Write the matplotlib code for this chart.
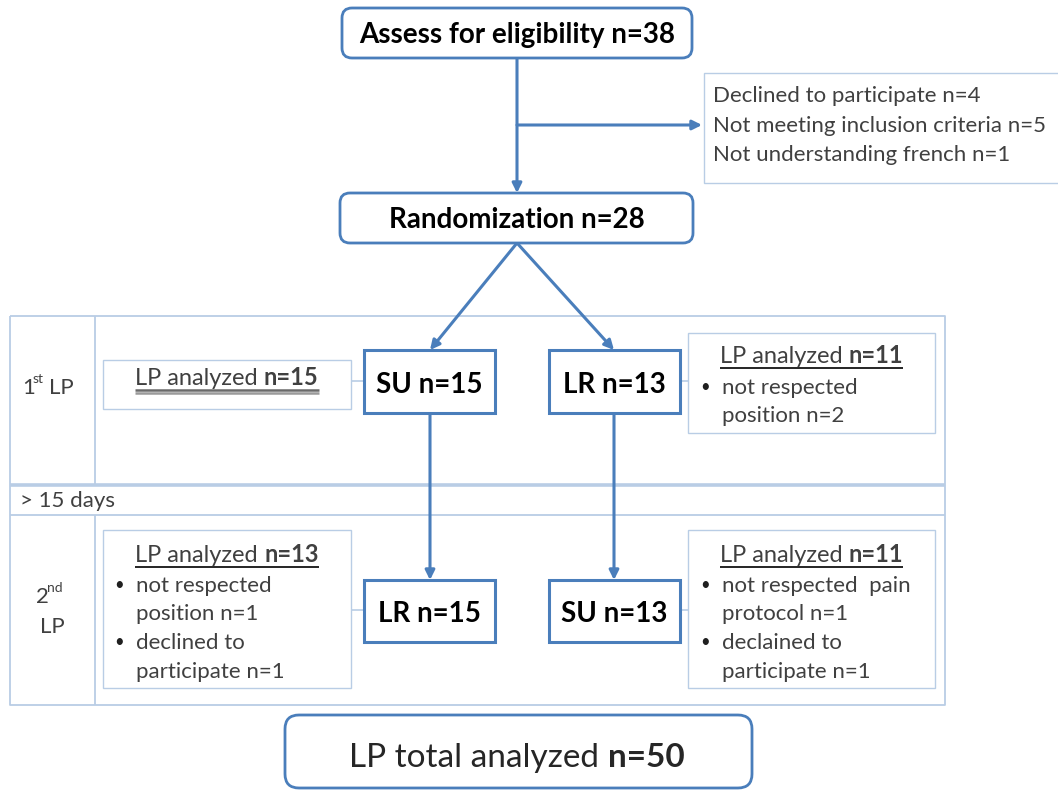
import matplotlib
matplotlib.use('Agg')
import matplotlib.pyplot as plt
from matplotlib.patches import FancyBboxPatch, Rectangle, FancyArrowPatch

# ---------------- data ----------------
assess_label = "Assess for eligibility"
assess_n = 38
excluded_reasons = ["Declined to participate", "Not meeting inclusion criteria", "Not understanding french"]
excluded_n = [4, 5, 1]
random_label = "Randomization"
random_n = 28
period1_groups = ["SU", "LR"]
period1_n = [15, 13]
period2_groups = ["LR", "SU"]
period2_n = [15, 13]
period1_analyzed = [15, 11]
period2_analyzed = [13, 11]
period1_notes = [[], [["not respected", "position n=2"]]]
period2_notes = [[["not respected", "position n=1"], ["declined to", "participate n=1"]],
                 [["not respected  pain", "protocol n=1"], ["declained to", "participate n=1"]]]
gap_label = "> 15 days"
total_label = "LP total analyzed"
total_n = 50

# ---------------- setup ----------------
W, H = 1058, 790
fig = plt.figure(figsize=(W / 100, H / 100), dpi=100)
ax = fig.add_axes([0, 0, 1, 1])
ax.set_xlim(0, W)
ax.set_ylim(H, 0)
ax.axis('off')

FONT = 'Lato'
BLUE = '#4a7ebb'
LIGHT = '#b9cde5'
GRAY = '#404040'
renderer = fig.canvas.get_renderer()

S_MAIN = 20
S_GRP = 20
S_SMALL = 16
S_HEAD = 17
S_TOTAL = 24


def twidth(s, size, weight):
    t = ax.text(0, 0, s, fontsize=size, fontweight=weight, family=FONT)
    w = t.get_window_extent(renderer).width
    t.remove()
    return w


def rich(x, y, parts, size, ha='center', color='black', underline=None, ulw=1.0, double=False):
    widths = [twidth(p, size, w) for p, w in parts]
    sp = twidth('n n', size, 'normal') - twidth('nn', size, 'normal')
    total = sum(widths) + sp * (len(parts) - 1)
    x0 = x - total / 2 if ha == 'center' else x
    cx = x0
    for (p, w), wd in zip(parts, widths):
        ax.text(cx, y, p, fontsize=size, fontweight=w, family=FONT, color=color,
                ha='left', va='baseline', zorder=5)
        cx += wd + sp
    if underline:
        ax.plot([x0, x0 + total], [y + 5, y + 5], color=underline, lw=ulw,
                solid_capstyle='butt', zorder=5)
        if double:
            ax.plot([x0, x0 + total], [y + 8, y + 8], color='#9a9a9a', lw=ulw,
                    solid_capstyle='butt', zorder=5)


def rbox(x0, y0, x1, y1, lw=2.0, ec=BLUE, r=10):
    ax.add_patch(FancyBboxPatch((x0, y0), x1 - x0, y1 - y0,
                                boxstyle=f"round,pad=0,rounding_size={r}",
                                fc='white', ec=ec, lw=lw, zorder=3))


def sbox(x0, y0, x1, y1, lw=2.0, ec=BLUE):
    ax.add_patch(Rectangle((x0, y0), x1 - x0, y1 - y0, fc='white', ec=ec, lw=lw, zorder=3))


def arrow(p0, p1):
    ax.add_patch(FancyArrowPatch(p0, p1, arrowstyle='-|>', mutation_scale=14,
                                 color=BLUE, lw=2.2, shrinkA=0, shrinkB=0, zorder=2))


def line(xs, ys, color=LIGHT, lw=1.2, z=1):
    ax.plot(xs, ys, color=color, lw=lw, zorder=z, solid_capstyle='butt')


# ---------------- table frame ----------------
line([10, 945, 945, 10, 10], [316, 316, 705, 705, 316], lw=1.3)
line([10, 945], [485, 485], lw=2.6)
line([10, 945], [515, 515], lw=1.3)
line([95, 95], [316, 485], lw=1.3)
line([95, 95], [515, 705], lw=1.3)

ax.text(22, 394, "1", fontsize=S_SMALL, family=FONT, color=GRAY, ha='left', va='baseline')
ax.text(33, 383, "st", fontsize=10, family=FONT, color=GRAY, ha='left', va='baseline')
ax.text(49, 394, "LP", fontsize=S_SMALL, family=FONT, color=GRAY, ha='left', va='baseline')
ax.text(36, 603, "2", fontsize=S_SMALL, family=FONT, color=GRAY, ha='left', va='baseline')
ax.text(47, 592, "nd", fontsize=10, family=FONT, color=GRAY, ha='left', va='baseline')
ax.text(52, 633, "LP", fontsize=S_SMALL, family=FONT, color=GRAY, ha='center', va='baseline')
ax.text(20, 507, gap_label, fontsize=S_SMALL, family=FONT, color=GRAY, ha='left', va='baseline')

# ---------------- top part ----------------
cx = 517
rbox(342, 8, 692, 58)
rich(cx, 43, [(f"{assess_label} n={assess_n}", 'bold')], S_MAIN)

arrow((cx, 58), (cx, 193))
arrow((cx, 125), (702, 125))

sbox(704, 73, 1070, 183, lw=1.0, ec=LIGHT)
for i, (r, n) in enumerate(zip(excluded_reasons, excluded_n)):
    ax.text(713, 102 + 29.5 * i, f"{r} n={n}", fontsize=S_SMALL, family=FONT, color=GRAY,
            ha='left', va='baseline', zorder=4)

rbox(340, 193, 693, 243)
rich(cx, 228, [(f"{random_label} n={random_n}", 'bold')], S_MAIN)

xs_grp = [430, 614]
arrow((cx, 243), (xs_grp[0], 350))
arrow((cx, 243), (xs_grp[1], 350))

# ---------------- group boxes ----------------
grp_boxes_x = [(364, 495), (549, 680)]
for (x0, x1), g, n in zip(grp_boxes_x, period1_groups, period1_n):
    sbox(x0, 350, x1, 413, lw=2.2)
    rich((x0 + x1) / 2, 393, [(f"{g} n={n}", 'bold')], S_GRP)
for (x0, x1), g, n in zip(grp_boxes_x, period2_groups, period2_n):
    sbox(x0, 580, x1, 642, lw=2.2)
    rich((x0 + x1) / 2, 622, [(f"{g} n={n}", 'bold')], S_GRP)

arrow((xs_grp[0], 413), (xs_grp[0], 580))
arrow((xs_grp[1], 413), (xs_grp[1], 580))

# side boxes period 1
sbox(103, 360, 351, 409, lw=1.0, ec=LIGHT)
line([351, 364], [381, 381])
rich(227, 385, [("LP analyzed", 'normal'), (f"n={period1_analyzed[0]}", 'bold')], S_HEAD,
     color=GRAY, underline='#6a6a6a', ulw=1.8, double=True)

sbox(688, 333, 935, 433, lw=1.0, ec=LIGHT)
line([680, 688], [381, 381])
rich(811.5, 363, [("LP analyzed", 'normal'), (f"n={period1_analyzed[1]}", 'bold')], S_HEAD,
     color=GRAY, underline='black', ulw=1.2)


def notes(xb, xt, y0, items):
    y = y0
    for it in items:
        ax.text(xb, y - 2, "•", fontsize=12, family=FONT, color='#202020', ha='center',
                va='baseline', zorder=4)
        for ln in it:
            ax.text(xt, y, ln, fontsize=S_SMALL, family=FONT, color=GRAY, ha='left',
                    va='baseline', zorder=4)
            y += 28.5


notes(705, 722, 394, period1_notes[1][0:1])

# side boxes period 2
sbox(103, 530, 351, 688, lw=1.0, ec=LIGHT)
line([351, 364], [610, 610])
rich(227, 562, [("LP analyzed", 'normal'), (f"n={period2_analyzed[0]}", 'bold')], S_HEAD,
     color=GRAY, underline='black', ulw=1.2)
notes(119, 136, 592, period2_notes[0])

sbox(688, 530, 935, 688, lw=1.0, ec=LIGHT)
line([680, 688], [610, 610])
rich(811.5, 562, [("LP analyzed", 'normal'), (f"n={period2_analyzed[1]}", 'bold')], S_HEAD,
     color=GRAY, underline='black', ulw=1.2)
notes(705, 722, 592, period2_notes[1])

# ---------------- total ----------------
rbox(285, 715, 752, 788, lw=2.0, r=14)
rich(cx, 767, [(total_label, 'normal'), (f"n={total_n}", 'bold')], S_TOTAL, color='#262626')

fig.savefig('out.png', dpi=100)
